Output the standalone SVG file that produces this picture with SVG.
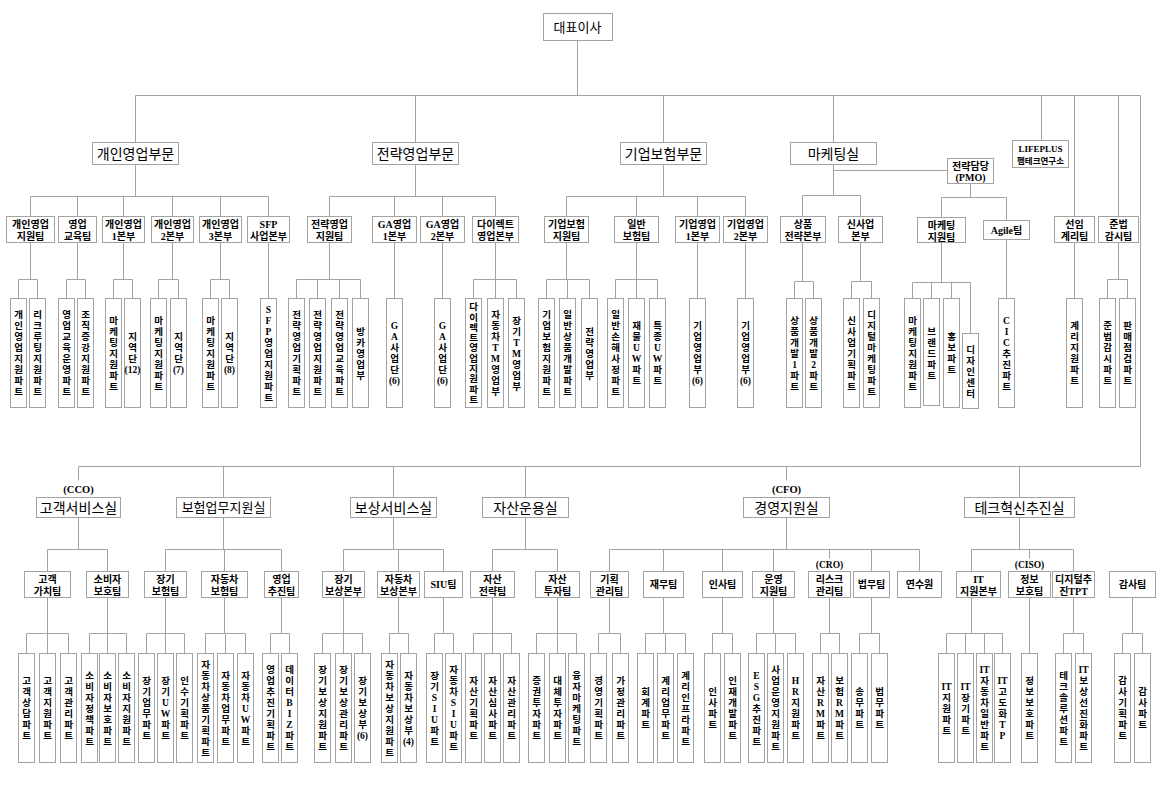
<svg xmlns="http://www.w3.org/2000/svg" width="1172" height="801" viewBox="0 0 1172 801">
<style>
.bx{fill:#fff;stroke:#a3a3a3;stroke-width:1}
.cn{fill:none;stroke:#a3a3a3;stroke-width:1}
text{font-family:"Liberation Serif","Noto Sans CJK KR",serif;fill:#000;text-anchor:middle}
.dv{font-size:14px}
.dv7{font-size:13px}
.tm{font-size:10px;font-weight:bold}
.lf{font-size:9.5px;font-weight:bold}
.lb{font-size:10.5px;font-weight:bold}
</style>
<rect x="0" y="0" width="1172" height="801" fill="#fff"/>
<g transform="translate(0.5,0.5)">
<g id="connectors">
<path class="cn" d="M577 40V95 M135 95H1140 M135 95V142 M415 95V142 M663 95V142 M833 95V142 M1041 95V140 M1074 95V216 M1118 95V216 M1140 95V466
M135 164V196 M30 196H268 M30 196V216 M77 196V216 M123 196V216 M172 196V216 M220 196V216 M268 196V216
M30 242V279 M18 279H37 M18 279V298 M37 279V298
M77 242V279 M66 279H85 M66 279V298 M85 279V298
M123 242V279 M113 279H132 M113 279V298 M132 279V298
M172 242V279 M158 279H178 M158 279V298 M178 279V298
M220 242V279 M210 279H229 M210 279V298 M229 279V298
M268 242V298
M415 164V196 M329 196H495 M329 196V216 M394 196V216 M442 196V216 M495 196V216
M329 242V279 M296 279H360 M296 279V298 M317 279V298 M339 279V298 M360 279V298
M394 242V298 M442 242V298
M495 242V279 M473 279H516 M473 279V298 M495 279V298 M516 279V298
M663 164V196 M566 196H745 M566 196V216 M636 196V216 M697 196V216 M745 196V216
M566 242V279 M546 279H589 M546 279V298 M567 279V298 M589 279V298
M636 242V279 M615 279H657 M615 279V298 M636 279V298 M657 279V298
M697 242V298 M745 242V298
M833 164V195 M833 170H947 M802 195H860 M802 195V216 M860 195V216
M802 242V281 M794 281H813 M794 281V298 M813 281V298
M860 242V281 M851 281H871 M851 281V298 M871 281V298
M970 183V197 M941 197H1006 M941 197V217 M1006 197V220
M941 242V282 M912 282H970 M912 282V298 M931 282V298 M951 282V298 M970 282V333
M1006 239V298
M1074 242V298
M1118 242V279 M1107 279H1127 M1107 279V298 M1127 279V298
M78 466H1140 M78 466V480 M223 466V497 M393 466V497 M525 466V497 M786 466V480 M1019 466V497
M78 517V549 M47 549H107 M47 549V571 M107 549V571
M47 597V633 M26 633H68 M26 633V653 M47 633V653 M68 633V653
M107 597V633 M89 633H126 M89 633V653 M107 633V653 M126 633V653
M223 517V549 M165 549H281 M165 549V571 M224 549V571 M281 549V571
M165 597V633 M146 633H184 M146 633V653 M165 633V653 M184 633V653
M224 597V633 M205 633H245 M205 633V653 M225 633V653 M245 633V653
M281 597V633 M270 633H289 M270 633V653 M289 633V653
M393 517V549 M343 549H443 M343 549V571 M398 549V571 M443 549V571
M343 597V633 M322 633H362 M322 633V653 M343 633V653 M362 633V653
M398 597V633 M389 633H408 M389 633V653 M408 633V653
M443 597V633 M434 633H453 M434 633V653 M453 633V653
M525 517V549 M492 549H557 M492 549V571 M557 549V571
M492 597V633 M473 633H511 M473 633V653 M492 633V653 M511 633V653
M557 597V633 M536 633H576 M536 633V653 M557 633V653 M576 633V653
M786 517V549 M609 549H919 M609 549V571 M663 549V571 M722 549V571 M773 549V571 M829 549V558 M871 549V571 M919 549V571
M609 597V633 M598 633H620 M598 633V653 M620 633V653
M663 597V633 M645 633H685 M645 633V653 M665 633V653 M685 633V653
M722 597V633 M712 633H732 M712 633V653 M732 633V653
M773 597V633 M756 633H795 M756 633V653 M775 633V653 M795 633V653
M829 597V633 M820 633H839 M820 633V653 M839 633V653
M871 597V633 M859 633H879 M859 633V653 M879 633V653
M1019 517V549 M971 549H1073 M971 549V571 M1029 549V558 M1073 549V571
M971 597V633 M946 633H1002 M946 633V653 M965 633V653 M984 633V653 M1002 633V653
M1029 597V653
M1073 597V633 M1063 633H1083 M1063 633V653 M1083 633V653
M1132 597V633 M1122 633H1142 M1122 633V653 M1142 633V653"/>
</g>

<g id="n-ceo"><rect class="bx" x="543" y="13" width="69" height="27"/><text class="dv7" x="577" y="31">대표이사</text></g>

<g id="d-personal"><rect class="bx" x="92" y="142" width="86" height="22"/><text class="dv" x="135" y="158">개인영업부문</text></g>
<g id="d-strategy"><rect class="bx" x="372" y="142" width="86" height="22"/><text class="dv" x="415" y="158">전략영업부문</text></g>
<g id="d-corporate"><rect class="bx" x="620" y="142" width="86" height="22"/><text class="dv" x="663" y="158">기업보험부문</text></g>
<g id="d-marketing"><rect class="bx" x="790" y="142" width="86" height="22"/><text class="dv" x="833" y="158">마케팅실</text></g>
<g id="d-lifeplus"><rect class="bx" x="1012" y="140" width="56" height="27"/><text x="1040" y="151" style="font-size:9px;font-weight:bold">LIFEPLUS</text><text x="1040" y="163" style="font-size:8.5px;font-weight:bold">펨테크연구소</text></g>
<g id="d-pmo"><rect class="bx" x="947" y="158" width="46" height="25"/><text class="tm" x="970" y="169">전략담당</text><text class="tm" x="970" y="180">(PMO)</text></g>

<g id="t-top">
<g id="t1"><rect class="bx" x="6" y="216" width="48" height="26"/><text class="tm" x="30" y="227">개인영업</text><text class="tm" x="30" y="239">지원팀</text></g>
<g id="t2"><rect class="bx" x="58" y="216" width="38" height="26"/><text class="tm" x="77" y="227">영업</text><text class="tm" x="77" y="239">교육팀</text></g>
<g id="t3"><rect class="bx" x="102" y="216" width="42" height="26"/><text class="tm" x="123" y="227">개인영업</text><text class="tm" x="123" y="239">1본부</text></g>
<g id="t4"><rect class="bx" x="151" y="216" width="42" height="26"/><text class="tm" x="172" y="227">개인영업</text><text class="tm" x="172" y="239">2본부</text></g>
<g id="t5"><rect class="bx" x="199" y="216" width="42" height="26"/><text class="tm" x="220" y="227">개인영업</text><text class="tm" x="220" y="239">3본부</text></g>
<g id="t6"><rect class="bx" x="247" y="216" width="42" height="26"/><text class="tm" x="268" y="227">SFP</text><text class="tm" x="268" y="239">사업본부</text></g>
<g id="t7"><rect class="bx" x="307" y="216" width="44" height="26"/><text class="tm" x="329" y="227">전략영업</text><text class="tm" x="329" y="239">지원팀</text></g>
<g id="t8"><rect class="bx" x="372" y="216" width="44" height="26"/><text class="tm" x="394" y="227">GA영업</text><text class="tm" x="394" y="239">1본부</text></g>
<g id="t9"><rect class="bx" x="420" y="216" width="44" height="26"/><text class="tm" x="442" y="227">GA영업</text><text class="tm" x="442" y="239">2본부</text></g>
<g id="t10"><rect class="bx" x="472" y="216" width="46" height="26"/><text class="tm" x="495" y="227">다이렉트</text><text class="tm" x="495" y="239">영업본부</text></g>
<g id="t11"><rect class="bx" x="544" y="216" width="44" height="26"/><text class="tm" x="566" y="227">기업보험</text><text class="tm" x="566" y="239">지원팀</text></g>
<g id="t12"><rect class="bx" x="614" y="216" width="44" height="26"/><text class="tm" x="636" y="227">일반</text><text class="tm" x="636" y="239">보험팀</text></g>
<g id="t13"><rect class="bx" x="675" y="216" width="44" height="26"/><text class="tm" x="697" y="227">기업영업</text><text class="tm" x="697" y="239">1본부</text></g>
<g id="t14"><rect class="bx" x="723" y="216" width="44" height="26"/><text class="tm" x="745" y="227">기업영업</text><text class="tm" x="745" y="239">2본부</text></g>
<g id="t15"><rect class="bx" x="780" y="216" width="45" height="26"/><text class="tm" x="802.5" y="227">상품</text><text class="tm" x="802.5" y="239">전략본부</text></g>
<g id="t16"><rect class="bx" x="838" y="216" width="44" height="26"/><text class="tm" x="860" y="227">신사업</text><text class="tm" x="860" y="239">본부</text></g>
<g id="t17"><rect class="bx" x="917" y="217" width="48" height="25"/><text class="tm" x="941" y="228">마케팅</text><text class="tm" x="941" y="240">지원팀</text></g>
<g id="t18"><rect class="bx" x="983" y="220" width="46" height="19"/><text class="tm" x="1006" y="233.5">Agile팀</text></g>
<g id="t19"><rect class="bx" x="1054" y="216" width="40" height="26"/><text class="tm" x="1074" y="227">선임</text><text class="tm" x="1074" y="239">계리팀</text></g>
<g id="t20"><rect class="bx" x="1098" y="216" width="40" height="26"/><text class="tm" x="1118" y="227">준법</text><text class="tm" x="1118" y="239">감시팀</text></g>
</g>

<g id="leaves-top">
<g id="L1"><rect class="bx" x="10" y="298" width="16" height="109"/><text class="lf"><tspan x="18" y="317.5">개</tspan><tspan x="18" y="328.5">인</tspan><tspan x="18" y="339.5">영</tspan><tspan x="18" y="350.5">업</tspan><tspan x="18" y="361.5">지</tspan><tspan x="18" y="372.5">원</tspan><tspan x="18" y="383.5">파</tspan><tspan x="18" y="394.5">트</tspan></text></g>
<g id="L2"><rect class="bx" x="29" y="298" width="16" height="109"/><text class="lf"><tspan x="37" y="317.5">리</tspan><tspan x="37" y="328.5">크</tspan><tspan x="37" y="339.5">루</tspan><tspan x="37" y="350.5">팅</tspan><tspan x="37" y="361.5">지</tspan><tspan x="37" y="372.5">원</tspan><tspan x="37" y="383.5">파</tspan><tspan x="37" y="394.5">트</tspan></text></g>
<g id="L3"><rect class="bx" x="58" y="298" width="16" height="109"/><text class="lf"><tspan x="66" y="317.5">영</tspan><tspan x="66" y="328.5">업</tspan><tspan x="66" y="339.5">교</tspan><tspan x="66" y="350.5">육</tspan><tspan x="66" y="361.5">운</tspan><tspan x="66" y="372.5">영</tspan><tspan x="66" y="383.5">파</tspan><tspan x="66" y="394.5">트</tspan></text></g>
<g id="L4"><rect class="bx" x="77" y="298" width="16" height="109"/><text class="lf"><tspan x="85" y="317.5">조</tspan><tspan x="85" y="328.5">직</tspan><tspan x="85" y="339.5">증</tspan><tspan x="85" y="350.5">강</tspan><tspan x="85" y="361.5">지</tspan><tspan x="85" y="372.5">원</tspan><tspan x="85" y="383.5">파</tspan><tspan x="85" y="394.5">트</tspan></text></g>
<g id="L5"><rect class="bx" x="105" y="298" width="16" height="109"/><text class="lf"><tspan x="113" y="323">마</tspan><tspan x="113" y="334">케</tspan><tspan x="113" y="345">팅</tspan><tspan x="113" y="356">지</tspan><tspan x="113" y="367">원</tspan><tspan x="113" y="378">파</tspan><tspan x="113" y="389">트</tspan></text></g>
<g id="L6"><rect class="bx" x="124" y="298" width="16" height="109"/><text class="lf"><tspan x="132" y="339.5">지</tspan><tspan x="132" y="350.5">역</tspan><tspan x="132" y="361.5">단</tspan><tspan x="132" y="372.5">(12)</tspan></text></g>
<g id="L7"><rect class="bx" x="150" y="298" width="16" height="109"/><text class="lf"><tspan x="158" y="323">마</tspan><tspan x="158" y="334">케</tspan><tspan x="158" y="345">팅</tspan><tspan x="158" y="356">지</tspan><tspan x="158" y="367">원</tspan><tspan x="158" y="378">파</tspan><tspan x="158" y="389">트</tspan></text></g>
<g id="L8"><rect class="bx" x="170" y="298" width="16" height="109"/><text class="lf"><tspan x="178" y="339.5">지</tspan><tspan x="178" y="350.5">역</tspan><tspan x="178" y="361.5">단</tspan><tspan x="178" y="372.5">(7)</tspan></text></g>
<g id="L9"><rect class="bx" x="202" y="298" width="16" height="109"/><text class="lf"><tspan x="210" y="323">마</tspan><tspan x="210" y="334">케</tspan><tspan x="210" y="345">팅</tspan><tspan x="210" y="356">지</tspan><tspan x="210" y="367">원</tspan><tspan x="210" y="378">파</tspan><tspan x="210" y="389">트</tspan></text></g>
<g id="L10"><rect class="bx" x="221" y="298" width="16" height="109"/><text class="lf"><tspan x="229" y="339.5">지</tspan><tspan x="229" y="350.5">역</tspan><tspan x="229" y="361.5">단</tspan><tspan x="229" y="372.5">(8)</tspan></text></g>
<g id="L11"><rect class="bx" x="260" y="298" width="16" height="109"/><text class="lf"><tspan x="268" y="312">S</tspan><tspan x="268" y="323">F</tspan><tspan x="268" y="334">P</tspan><tspan x="268" y="345">영</tspan><tspan x="268" y="356">업</tspan><tspan x="268" y="367">지</tspan><tspan x="268" y="378">원</tspan><tspan x="268" y="389">파</tspan><tspan x="268" y="400">트</tspan></text></g>
<g id="L12"><rect class="bx" x="288" y="298" width="16" height="109"/><text class="lf"><tspan x="296" y="317.5">전</tspan><tspan x="296" y="328.5">략</tspan><tspan x="296" y="339.5">영</tspan><tspan x="296" y="350.5">업</tspan><tspan x="296" y="361.5">기</tspan><tspan x="296" y="372.5">획</tspan><tspan x="296" y="383.5">파</tspan><tspan x="296" y="394.5">트</tspan></text></g>
<g id="L13"><rect class="bx" x="309" y="298" width="16" height="109"/><text class="lf"><tspan x="317" y="317.5">전</tspan><tspan x="317" y="328.5">략</tspan><tspan x="317" y="339.5">영</tspan><tspan x="317" y="350.5">업</tspan><tspan x="317" y="361.5">지</tspan><tspan x="317" y="372.5">원</tspan><tspan x="317" y="383.5">파</tspan><tspan x="317" y="394.5">트</tspan></text></g>
<g id="L14"><rect class="bx" x="331" y="298" width="16" height="109"/><text class="lf"><tspan x="339" y="317.5">전</tspan><tspan x="339" y="328.5">략</tspan><tspan x="339" y="339.5">영</tspan><tspan x="339" y="350.5">업</tspan><tspan x="339" y="361.5">교</tspan><tspan x="339" y="372.5">육</tspan><tspan x="339" y="383.5">파</tspan><tspan x="339" y="394.5">트</tspan></text></g>
<g id="L15"><rect class="bx" x="352" y="298" width="16" height="109"/><text class="lf"><tspan x="360" y="334">방</tspan><tspan x="360" y="345">카</tspan><tspan x="360" y="356">영</tspan><tspan x="360" y="367">업</tspan><tspan x="360" y="378">부</tspan></text></g>
<g id="L16"><rect class="bx" x="386" y="298" width="16" height="109"/><text class="lf"><tspan x="394" y="328.5">G</tspan><tspan x="394" y="339.5">A</tspan><tspan x="394" y="350.5">사</tspan><tspan x="394" y="361.5">업</tspan><tspan x="394" y="372.5">단</tspan><tspan x="394" y="383.5">(6)</tspan></text></g>
<g id="L17"><rect class="bx" x="434" y="298" width="16" height="109"/><text class="lf"><tspan x="442" y="328.5">G</tspan><tspan x="442" y="339.5">A</tspan><tspan x="442" y="350.5">사</tspan><tspan x="442" y="361.5">업</tspan><tspan x="442" y="372.5">단</tspan><tspan x="442" y="383.5">(6)</tspan></text></g>
<g id="L18"><rect class="bx" x="465" y="298" width="16" height="109"/><text class="lf"><tspan x="473" y="309.6">다</tspan><tspan x="473" y="320">이</tspan><tspan x="473" y="330.2">렉</tspan><tspan x="473" y="340.5">트</tspan><tspan x="473" y="350.8">영</tspan><tspan x="473" y="361.2">업</tspan><tspan x="473" y="371.5">지</tspan><tspan x="473" y="381.8">원</tspan><tspan x="473" y="392.1">파</tspan><tspan x="473" y="402.4">트</tspan></text></g>
<g id="L19"><rect class="bx" x="487" y="298" width="16" height="109"/><text class="lf"><tspan x="495" y="317.5">자</tspan><tspan x="495" y="328.5">동</tspan><tspan x="495" y="339.5">차</tspan><tspan x="495" y="350.5">T</tspan><tspan x="495" y="361.5">M</tspan><tspan x="495" y="372.5">영</tspan><tspan x="495" y="383.5">업</tspan><tspan x="495" y="394.5">부</tspan></text></g>
<g id="L20"><rect class="bx" x="508" y="298" width="16" height="109"/><text class="lf"><tspan x="516" y="323">장</tspan><tspan x="516" y="334">기</tspan><tspan x="516" y="345">T</tspan><tspan x="516" y="356">M</tspan><tspan x="516" y="367">영</tspan><tspan x="516" y="378">업</tspan><tspan x="516" y="389">부</tspan></text></g>
<g id="L21"><rect class="bx" x="538" y="298" width="16" height="109"/><text class="lf"><tspan x="546" y="317.5">기</tspan><tspan x="546" y="328.5">업</tspan><tspan x="546" y="339.5">보</tspan><tspan x="546" y="350.5">험</tspan><tspan x="546" y="361.5">지</tspan><tspan x="546" y="372.5">원</tspan><tspan x="546" y="383.5">파</tspan><tspan x="546" y="394.5">트</tspan></text></g>
<g id="L22"><rect class="bx" x="559" y="298" width="16" height="109"/><text class="lf"><tspan x="567" y="317.5">일</tspan><tspan x="567" y="328.5">반</tspan><tspan x="567" y="339.5">상</tspan><tspan x="567" y="350.5">품</tspan><tspan x="567" y="361.5">개</tspan><tspan x="567" y="372.5">발</tspan><tspan x="567" y="383.5">파</tspan><tspan x="567" y="394.5">트</tspan></text></g>
<g id="L23"><rect class="bx" x="581" y="298" width="16" height="109"/><text class="lf"><tspan x="589" y="334">전</tspan><tspan x="589" y="345">략</tspan><tspan x="589" y="356">영</tspan><tspan x="589" y="367">업</tspan><tspan x="589" y="378">부</tspan></text></g>
<g id="L24"><rect class="bx" x="607" y="298" width="16" height="109"/><text class="lf"><tspan x="615" y="317.5">일</tspan><tspan x="615" y="328.5">반</tspan><tspan x="615" y="339.5">손</tspan><tspan x="615" y="350.5">해</tspan><tspan x="615" y="361.5">사</tspan><tspan x="615" y="372.5">정</tspan><tspan x="615" y="383.5">파</tspan><tspan x="615" y="394.5">트</tspan></text></g>
<g id="L25"><rect class="bx" x="628" y="298" width="16" height="109"/><text class="lf"><tspan x="636" y="328.5">재</tspan><tspan x="636" y="339.5">물</tspan><tspan x="636" y="350.5">U</tspan><tspan x="636" y="361.5">W</tspan><tspan x="636" y="372.5">파</tspan><tspan x="636" y="383.5">트</tspan></text></g>
<g id="L26"><rect class="bx" x="649" y="298" width="16" height="109"/><text class="lf"><tspan x="657" y="328.5">특</tspan><tspan x="657" y="339.5">종</tspan><tspan x="657" y="350.5">U</tspan><tspan x="657" y="361.5">W</tspan><tspan x="657" y="372.5">파</tspan><tspan x="657" y="383.5">트</tspan></text></g>
<g id="L27"><rect class="bx" x="689" y="298" width="16" height="109"/><text class="lf"><tspan x="697" y="328.5">기</tspan><tspan x="697" y="339.5">업</tspan><tspan x="697" y="350.5">영</tspan><tspan x="697" y="361.5">업</tspan><tspan x="697" y="372.5">부</tspan><tspan x="697" y="383.5">(6)</tspan></text></g>
<g id="L28"><rect class="bx" x="737" y="298" width="16" height="109"/><text class="lf"><tspan x="745" y="328.5">기</tspan><tspan x="745" y="339.5">업</tspan><tspan x="745" y="350.5">영</tspan><tspan x="745" y="361.5">업</tspan><tspan x="745" y="372.5">부</tspan><tspan x="745" y="383.5">(6)</tspan></text></g>
<g id="L29"><rect class="bx" x="786" y="298" width="16" height="109"/><text class="lf"><tspan x="794" y="323">상</tspan><tspan x="794" y="334">품</tspan><tspan x="794" y="345">개</tspan><tspan x="794" y="356">발</tspan><tspan x="794" y="367">1</tspan><tspan x="794" y="378">파</tspan><tspan x="794" y="389">트</tspan></text></g>
<g id="L30"><rect class="bx" x="805" y="298" width="16" height="109"/><text class="lf"><tspan x="813" y="323">상</tspan><tspan x="813" y="334">품</tspan><tspan x="813" y="345">개</tspan><tspan x="813" y="356">발</tspan><tspan x="813" y="367">2</tspan><tspan x="813" y="378">파</tspan><tspan x="813" y="389">트</tspan></text></g>
<g id="L31"><rect class="bx" x="843" y="298" width="16" height="109"/><text class="lf"><tspan x="851" y="323">신</tspan><tspan x="851" y="334">사</tspan><tspan x="851" y="345">업</tspan><tspan x="851" y="356">기</tspan><tspan x="851" y="367">획</tspan><tspan x="851" y="378">파</tspan><tspan x="851" y="389">트</tspan></text></g>
<g id="L32"><rect class="bx" x="863" y="298" width="16" height="109"/><text class="lf"><tspan x="871" y="317.5">디</tspan><tspan x="871" y="328.5">지</tspan><tspan x="871" y="339.5">털</tspan><tspan x="871" y="350.5">마</tspan><tspan x="871" y="361.5">케</tspan><tspan x="871" y="372.5">팅</tspan><tspan x="871" y="383.5">파</tspan><tspan x="871" y="394.5">트</tspan></text></g>
<g id="L33"><rect class="bx" x="904" y="298" width="16" height="109"/><text class="lf"><tspan x="912" y="323">마</tspan><tspan x="912" y="334">케</tspan><tspan x="912" y="345">팅</tspan><tspan x="912" y="356">지</tspan><tspan x="912" y="367">원</tspan><tspan x="912" y="378">파</tspan><tspan x="912" y="389">트</tspan></text></g>
<g id="L34"><rect class="bx" x="923" y="298" width="16" height="107"/><text class="lf"><tspan x="931" y="334">브</tspan><tspan x="931" y="345">랜</tspan><tspan x="931" y="356">드</tspan><tspan x="931" y="367">파</tspan><tspan x="931" y="378">트</tspan></text></g>
<g id="L35"><rect class="bx" x="943" y="298" width="16" height="109"/><text class="lf"><tspan x="951" y="339.5">홍</tspan><tspan x="951" y="350.5">보</tspan><tspan x="951" y="361.5">파</tspan><tspan x="951" y="372.5">트</tspan></text></g>
<g id="L36"><rect class="bx" x="962" y="333" width="16" height="75"/><text class="lf"><tspan x="970" y="352">디</tspan><tspan x="970" y="363">자</tspan><tspan x="970" y="374">인</tspan><tspan x="970" y="385">센</tspan><tspan x="970" y="396">터</tspan></text></g>
<g id="L37"><rect class="bx" x="998" y="298" width="16" height="109"/><text class="lf"><tspan x="1006" y="323">C</tspan><tspan x="1006" y="334">I</tspan><tspan x="1006" y="345">C</tspan><tspan x="1006" y="356">추</tspan><tspan x="1006" y="367">진</tspan><tspan x="1006" y="378">파</tspan><tspan x="1006" y="389">트</tspan></text></g>
<g id="L38"><rect class="bx" x="1066" y="298" width="16" height="109"/><text class="lf"><tspan x="1074" y="328.5">계</tspan><tspan x="1074" y="339.5">리</tspan><tspan x="1074" y="350.5">지</tspan><tspan x="1074" y="361.5">원</tspan><tspan x="1074" y="372.5">파</tspan><tspan x="1074" y="383.5">트</tspan></text></g>
<g id="L39"><rect class="bx" x="1099" y="298" width="16" height="109"/><text class="lf"><tspan x="1107" y="328.5">준</tspan><tspan x="1107" y="339.5">법</tspan><tspan x="1107" y="350.5">감</tspan><tspan x="1107" y="361.5">시</tspan><tspan x="1107" y="372.5">파</tspan><tspan x="1107" y="383.5">트</tspan></text></g>
<g id="L40"><rect class="bx" x="1119" y="298" width="16" height="109"/><text class="lf"><tspan x="1127" y="328.5">판</tspan><tspan x="1127" y="339.5">매</tspan><tspan x="1127" y="350.5">점</tspan><tspan x="1127" y="361.5">검</tspan><tspan x="1127" y="372.5">파</tspan><tspan x="1127" y="383.5">트</tspan></text></g>
</g>

<g id="d-bottom">
<g id="d-cco"><text class="lb" x="78" y="492">(CCO)</text><rect class="bx" x="36" y="497" width="84" height="20"/><text class="dv" x="78" y="512">고객서비스실</text></g>
<g id="d-ops"><rect class="bx" x="176" y="497" width="94" height="20"/><text class="dv7" x="223" y="511.5">보험업무지원실</text></g>
<g id="d-claims"><rect class="bx" x="350" y="497" width="86" height="20"/><text class="dv" x="393" y="512">보상서비스실</text></g>
<g id="d-asset"><rect class="bx" x="482" y="497" width="86" height="20"/><text class="dv" x="525" y="512">자산운용실</text></g>
<g id="d-cfo"><text class="lb" x="786" y="492">(CFO)</text><rect class="bx" x="743" y="497" width="86" height="20"/><text class="dv" x="786" y="512">경영지원실</text></g>
<g id="d-tech"><rect class="bx" x="964" y="497" width="110" height="20"/><text class="dv" x="1019" y="512">테크혁신추진실</text></g>
</g>

<g id="t-bottom">
<g id="b1"><rect class="bx" x="24" y="571" width="46" height="26"/><text class="tm" x="47" y="582">고객</text><text class="tm" x="47" y="594">가치팀</text></g>
<g id="b2"><rect class="bx" x="86" y="571" width="42" height="26"/><text class="tm" x="107" y="582">소비자</text><text class="tm" x="107" y="594">보호팀</text></g>
<g id="b3"><rect class="bx" x="144" y="571" width="42" height="26"/><text class="tm" x="165" y="582">장기</text><text class="tm" x="165" y="594">보험팀</text></g>
<g id="b4"><rect class="bx" x="201" y="571" width="46" height="26"/><text class="tm" x="224" y="582">자동차</text><text class="tm" x="224" y="594">보험팀</text></g>
<g id="b5"><rect class="bx" x="264" y="571" width="34" height="26"/><text class="tm" x="281" y="582">영업</text><text class="tm" x="281" y="594">추진팀</text></g>
<g id="b6"><rect class="bx" x="322" y="571" width="42" height="26"/><text class="tm" x="343" y="582">장기</text><text class="tm" x="343" y="594">보상본부</text></g>
<g id="b7"><rect class="bx" x="377" y="571" width="42" height="26"/><text class="tm" x="398" y="582">자동차</text><text class="tm" x="398" y="594">보상본부</text></g>
<g id="b8"><rect class="bx" x="424" y="571" width="38" height="26"/><text class="tm" x="443" y="587.5">SIU팀</text></g>
<g id="b9"><rect class="bx" x="470" y="571" width="44" height="26"/><text class="tm" x="492" y="582">자산</text><text class="tm" x="492" y="594">전략팀</text></g>
<g id="b10"><rect class="bx" x="535" y="571" width="44" height="26"/><text class="tm" x="557" y="582">자산</text><text class="tm" x="557" y="594">투자팀</text></g>
<g id="b11"><rect class="bx" x="590" y="571" width="38" height="26"/><text class="tm" x="609" y="582">기획</text><text class="tm" x="609" y="594">관리팀</text></g>
<g id="b12"><rect class="bx" x="643" y="571" width="40" height="26"/><text class="tm" x="663" y="587.5">재무팀</text></g>
<g id="b13"><rect class="bx" x="702" y="571" width="40" height="26"/><text class="tm" x="722" y="587.5">인사팀</text></g>
<g id="b14"><rect class="bx" x="752" y="571" width="42" height="26"/><text class="tm" x="773" y="582">운영</text><text class="tm" x="773" y="594">지원팀</text></g>
<g id="b15"><text class="tm" x="829" y="567" style="font-size:9.5px">(CRO)</text><rect class="bx" x="808" y="571" width="42" height="26"/><text class="tm" x="829" y="582">리스크</text><text class="tm" x="829" y="594">관리팀</text></g>
<g id="b16"><rect class="bx" x="853" y="571" width="36" height="26"/><text class="tm" x="871" y="587.5">법무팀</text></g>
<g id="b17"><rect class="bx" x="897" y="571" width="44" height="26"/><text class="tm" x="919" y="587.5">연수원</text></g>
<g id="b18"><rect class="bx" x="956" y="571" width="44" height="26"/><text class="tm" x="978" y="582">IT</text><text class="tm" x="978" y="594">지원본부</text></g>
<g id="b19"><text class="tm" x="1029" y="567" style="font-size:9.5px">(CISO)</text><rect class="bx" x="1008" y="571" width="42" height="26"/><text class="tm" x="1029" y="582">정보</text><text class="tm" x="1029" y="594">보호팀</text></g>
<g id="b20"><rect class="bx" x="1052" y="571" width="42" height="26"/><text class="tm" x="1073" y="582">디지털추</text><text class="tm" x="1073" y="594">진TPT</text></g>
<g id="b21"><rect class="bx" x="1109" y="571" width="46" height="26"/><text class="tm" x="1132" y="587.5">감사팀</text></g>
</g>

<g id="leaves-bottom">
<g id="B1"><rect class="bx" x="18" y="653" width="16" height="109"/><text class="lf"><tspan x="26" y="683.5">고</tspan><tspan x="26" y="694.5">객</tspan><tspan x="26" y="705.5">상</tspan><tspan x="26" y="716.5">담</tspan><tspan x="26" y="727.5">파</tspan><tspan x="26" y="738.5">트</tspan></text></g>
<g id="B2"><rect class="bx" x="39" y="653" width="16" height="109"/><text class="lf"><tspan x="47" y="683.5">고</tspan><tspan x="47" y="694.5">객</tspan><tspan x="47" y="705.5">지</tspan><tspan x="47" y="716.5">원</tspan><tspan x="47" y="727.5">파</tspan><tspan x="47" y="738.5">트</tspan></text></g>
<g id="B3"><rect class="bx" x="60" y="653" width="16" height="109"/><text class="lf"><tspan x="68" y="683.5">고</tspan><tspan x="68" y="694.5">객</tspan><tspan x="68" y="705.5">관</tspan><tspan x="68" y="716.5">리</tspan><tspan x="68" y="727.5">파</tspan><tspan x="68" y="738.5">트</tspan></text></g>
<g id="B4"><rect class="bx" x="81" y="653" width="16" height="109"/><text class="lf"><tspan x="89" y="678">소</tspan><tspan x="89" y="689">비</tspan><tspan x="89" y="700">자</tspan><tspan x="89" y="711">정</tspan><tspan x="89" y="722">책</tspan><tspan x="89" y="733">파</tspan><tspan x="89" y="744">트</tspan></text></g>
<g id="B5"><rect class="bx" x="99" y="653" width="16" height="109"/><text class="lf"><tspan x="107" y="678">소</tspan><tspan x="107" y="689">비</tspan><tspan x="107" y="700">자</tspan><tspan x="107" y="711">보</tspan><tspan x="107" y="722">호</tspan><tspan x="107" y="733">파</tspan><tspan x="107" y="744">트</tspan></text></g>
<g id="B6"><rect class="bx" x="118" y="653" width="16" height="109"/><text class="lf"><tspan x="126" y="678">소</tspan><tspan x="126" y="689">비</tspan><tspan x="126" y="700">자</tspan><tspan x="126" y="711">지</tspan><tspan x="126" y="722">원</tspan><tspan x="126" y="733">파</tspan><tspan x="126" y="744">트</tspan></text></g>
<g id="B7"><rect class="bx" x="138" y="653" width="16" height="109"/><text class="lf"><tspan x="146" y="683.5">장</tspan><tspan x="146" y="694.5">기</tspan><tspan x="146" y="705.5">업</tspan><tspan x="146" y="716.5">무</tspan><tspan x="146" y="727.5">파</tspan><tspan x="146" y="738.5">트</tspan></text></g>
<g id="B8"><rect class="bx" x="157" y="653" width="16" height="109"/><text class="lf"><tspan x="165" y="683.5">장</tspan><tspan x="165" y="694.5">기</tspan><tspan x="165" y="705.5">U</tspan><tspan x="165" y="716.5">W</tspan><tspan x="165" y="727.5">파</tspan><tspan x="165" y="738.5">트</tspan></text></g>
<g id="B9"><rect class="bx" x="176" y="653" width="16" height="109"/><text class="lf"><tspan x="184" y="683.5">인</tspan><tspan x="184" y="694.5">수</tspan><tspan x="184" y="705.5">기</tspan><tspan x="184" y="716.5">획</tspan><tspan x="184" y="727.5">파</tspan><tspan x="184" y="738.5">트</tspan></text></g>
<g id="B10"><rect class="bx" x="197" y="653" width="16" height="109"/><text class="lf"><tspan x="205" y="667">자</tspan><tspan x="205" y="678">동</tspan><tspan x="205" y="689">차</tspan><tspan x="205" y="700">상</tspan><tspan x="205" y="711">품</tspan><tspan x="205" y="722">기</tspan><tspan x="205" y="733">획</tspan><tspan x="205" y="744">파</tspan><tspan x="205" y="755">트</tspan></text></g>
<g id="B11"><rect class="bx" x="217" y="653" width="16" height="109"/><text class="lf"><tspan x="225" y="678">자</tspan><tspan x="225" y="689">동</tspan><tspan x="225" y="700">차</tspan><tspan x="225" y="711">업</tspan><tspan x="225" y="722">무</tspan><tspan x="225" y="733">파</tspan><tspan x="225" y="744">트</tspan></text></g>
<g id="B12"><rect class="bx" x="237" y="653" width="16" height="109"/><text class="lf"><tspan x="245" y="678">자</tspan><tspan x="245" y="689">동</tspan><tspan x="245" y="700">차</tspan><tspan x="245" y="711">U</tspan><tspan x="245" y="722">W</tspan><tspan x="245" y="733">파</tspan><tspan x="245" y="744">트</tspan></text></g>
<g id="B13"><rect class="bx" x="262" y="653" width="16" height="109"/><text class="lf"><tspan x="270" y="672.5">영</tspan><tspan x="270" y="683.5">업</tspan><tspan x="270" y="694.5">추</tspan><tspan x="270" y="705.5">진</tspan><tspan x="270" y="716.5">기</tspan><tspan x="270" y="727.5">획</tspan><tspan x="270" y="738.5">파</tspan><tspan x="270" y="749.5">트</tspan></text></g>
<g id="B14"><rect class="bx" x="281" y="653" width="16" height="109"/><text class="lf"><tspan x="289" y="672.5">데</tspan><tspan x="289" y="683.5">이</tspan><tspan x="289" y="694.5">터</tspan><tspan x="289" y="705.5">B</tspan><tspan x="289" y="716.5">I</tspan><tspan x="289" y="727.5">Z</tspan><tspan x="289" y="738.5">파</tspan><tspan x="289" y="749.5">트</tspan></text></g>
<g id="B15"><rect class="bx" x="314" y="653" width="16" height="109"/><text class="lf"><tspan x="322" y="672.5">장</tspan><tspan x="322" y="683.5">기</tspan><tspan x="322" y="694.5">보</tspan><tspan x="322" y="705.5">상</tspan><tspan x="322" y="716.5">지</tspan><tspan x="322" y="727.5">원</tspan><tspan x="322" y="738.5">파</tspan><tspan x="322" y="749.5">트</tspan></text></g>
<g id="B16"><rect class="bx" x="335" y="653" width="16" height="109"/><text class="lf"><tspan x="343" y="672.5">장</tspan><tspan x="343" y="683.5">기</tspan><tspan x="343" y="694.5">보</tspan><tspan x="343" y="705.5">상</tspan><tspan x="343" y="716.5">관</tspan><tspan x="343" y="727.5">리</tspan><tspan x="343" y="738.5">파</tspan><tspan x="343" y="749.5">트</tspan></text></g>
<g id="B17"><rect class="bx" x="354" y="653" width="16" height="109"/><text class="lf"><tspan x="362" y="683.5">장</tspan><tspan x="362" y="694.5">기</tspan><tspan x="362" y="705.5">보</tspan><tspan x="362" y="716.5">상</tspan><tspan x="362" y="727.5">부</tspan><tspan x="362" y="738.5">(6)</tspan></text></g>
<g id="B18"><rect class="bx" x="381" y="653" width="16" height="109"/><text class="lf"><tspan x="389" y="667">자</tspan><tspan x="389" y="678">동</tspan><tspan x="389" y="689">차</tspan><tspan x="389" y="700">보</tspan><tspan x="389" y="711">상</tspan><tspan x="389" y="722">지</tspan><tspan x="389" y="733">원</tspan><tspan x="389" y="744">파</tspan><tspan x="389" y="755">트</tspan></text></g>
<g id="B19"><rect class="bx" x="400" y="653" width="16" height="109"/><text class="lf"><tspan x="408" y="678">자</tspan><tspan x="408" y="689">동</tspan><tspan x="408" y="700">차</tspan><tspan x="408" y="711">보</tspan><tspan x="408" y="722">상</tspan><tspan x="408" y="733">부</tspan><tspan x="408" y="744">(4)</tspan></text></g>
<g id="B20"><rect class="bx" x="426" y="653" width="16" height="109"/><text class="lf"><tspan x="434" y="678">장</tspan><tspan x="434" y="689">기</tspan><tspan x="434" y="700">S</tspan><tspan x="434" y="711">I</tspan><tspan x="434" y="722">U</tspan><tspan x="434" y="733">파</tspan><tspan x="434" y="744">트</tspan></text></g>
<g id="B21"><rect class="bx" x="445" y="653" width="16" height="109"/><text class="lf"><tspan x="453" y="672.5">자</tspan><tspan x="453" y="683.5">동</tspan><tspan x="453" y="694.5">차</tspan><tspan x="453" y="705.5">S</tspan><tspan x="453" y="716.5">I</tspan><tspan x="453" y="727.5">U</tspan><tspan x="453" y="738.5">파</tspan><tspan x="453" y="749.5">트</tspan></text></g>
<g id="B22"><rect class="bx" x="465" y="653" width="16" height="109"/><text class="lf"><tspan x="473" y="683.5">자</tspan><tspan x="473" y="694.5">산</tspan><tspan x="473" y="705.5">기</tspan><tspan x="473" y="716.5">획</tspan><tspan x="473" y="727.5">파</tspan><tspan x="473" y="738.5">트</tspan></text></g>
<g id="B23"><rect class="bx" x="484" y="653" width="16" height="109"/><text class="lf"><tspan x="492" y="683.5">자</tspan><tspan x="492" y="694.5">산</tspan><tspan x="492" y="705.5">심</tspan><tspan x="492" y="716.5">사</tspan><tspan x="492" y="727.5">파</tspan><tspan x="492" y="738.5">트</tspan></text></g>
<g id="B24"><rect class="bx" x="503" y="653" width="16" height="109"/><text class="lf"><tspan x="511" y="683.5">자</tspan><tspan x="511" y="694.5">산</tspan><tspan x="511" y="705.5">관</tspan><tspan x="511" y="716.5">리</tspan><tspan x="511" y="727.5">파</tspan><tspan x="511" y="738.5">트</tspan></text></g>
<g id="B25"><rect class="bx" x="528" y="653" width="16" height="109"/><text class="lf"><tspan x="536" y="683.5">증</tspan><tspan x="536" y="694.5">권</tspan><tspan x="536" y="705.5">투</tspan><tspan x="536" y="716.5">자</tspan><tspan x="536" y="727.5">파</tspan><tspan x="536" y="738.5">트</tspan></text></g>
<g id="B26"><rect class="bx" x="549" y="653" width="16" height="109"/><text class="lf"><tspan x="557" y="683.5">대</tspan><tspan x="557" y="694.5">체</tspan><tspan x="557" y="705.5">투</tspan><tspan x="557" y="716.5">자</tspan><tspan x="557" y="727.5">파</tspan><tspan x="557" y="738.5">트</tspan></text></g>
<g id="B27"><rect class="bx" x="568" y="653" width="16" height="109"/><text class="lf"><tspan x="576" y="678">융</tspan><tspan x="576" y="689">자</tspan><tspan x="576" y="700">마</tspan><tspan x="576" y="711">케</tspan><tspan x="576" y="722">팅</tspan><tspan x="576" y="733">파</tspan><tspan x="576" y="744">트</tspan></text></g>
<g id="B28"><rect class="bx" x="590" y="653" width="16" height="109"/><text class="lf"><tspan x="598" y="683.5">경</tspan><tspan x="598" y="694.5">영</tspan><tspan x="598" y="705.5">기</tspan><tspan x="598" y="716.5">획</tspan><tspan x="598" y="727.5">파</tspan><tspan x="598" y="738.5">트</tspan></text></g>
<g id="B29"><rect class="bx" x="612" y="653" width="16" height="109"/><text class="lf"><tspan x="620" y="683.5">가</tspan><tspan x="620" y="694.5">정</tspan><tspan x="620" y="705.5">관</tspan><tspan x="620" y="716.5">리</tspan><tspan x="620" y="727.5">파</tspan><tspan x="620" y="738.5">트</tspan></text></g>
<g id="B30"><rect class="bx" x="637" y="653" width="16" height="109"/><text class="lf"><tspan x="645" y="694.5">회</tspan><tspan x="645" y="705.5">계</tspan><tspan x="645" y="716.5">파</tspan><tspan x="645" y="727.5">트</tspan></text></g>
<g id="B31"><rect class="bx" x="657" y="653" width="16" height="109"/><text class="lf"><tspan x="665" y="683.5">계</tspan><tspan x="665" y="694.5">리</tspan><tspan x="665" y="705.5">업</tspan><tspan x="665" y="716.5">무</tspan><tspan x="665" y="727.5">파</tspan><tspan x="665" y="738.5">트</tspan></text></g>
<g id="B32"><rect class="bx" x="677" y="653" width="16" height="109"/><text class="lf"><tspan x="685" y="678">계</tspan><tspan x="685" y="689">리</tspan><tspan x="685" y="700">인</tspan><tspan x="685" y="711">프</tspan><tspan x="685" y="722">라</tspan><tspan x="685" y="733">파</tspan><tspan x="685" y="744">트</tspan></text></g>
<g id="B33"><rect class="bx" x="704" y="653" width="16" height="109"/><text class="lf"><tspan x="712" y="694.5">인</tspan><tspan x="712" y="705.5">사</tspan><tspan x="712" y="716.5">파</tspan><tspan x="712" y="727.5">트</tspan></text></g>
<g id="B34"><rect class="bx" x="724" y="653" width="16" height="109"/><text class="lf"><tspan x="732" y="683.5">인</tspan><tspan x="732" y="694.5">재</tspan><tspan x="732" y="705.5">개</tspan><tspan x="732" y="716.5">발</tspan><tspan x="732" y="727.5">파</tspan><tspan x="732" y="738.5">트</tspan></text></g>
<g id="B35"><rect class="bx" x="748" y="653" width="16" height="109"/><text class="lf"><tspan x="756" y="678">E</tspan><tspan x="756" y="689">S</tspan><tspan x="756" y="700">G</tspan><tspan x="756" y="711">추</tspan><tspan x="756" y="722">진</tspan><tspan x="756" y="733">파</tspan><tspan x="756" y="744">트</tspan></text></g>
<g id="B36"><rect class="bx" x="767" y="653" width="16" height="109"/><text class="lf"><tspan x="775" y="672.5">사</tspan><tspan x="775" y="683.5">업</tspan><tspan x="775" y="694.5">운</tspan><tspan x="775" y="705.5">영</tspan><tspan x="775" y="716.5">지</tspan><tspan x="775" y="727.5">원</tspan><tspan x="775" y="738.5">파</tspan><tspan x="775" y="749.5">트</tspan></text></g>
<g id="B37"><rect class="bx" x="787" y="653" width="16" height="109"/><text class="lf"><tspan x="795" y="683.5">H</tspan><tspan x="795" y="694.5">R</tspan><tspan x="795" y="705.5">지</tspan><tspan x="795" y="716.5">원</tspan><tspan x="795" y="727.5">파</tspan><tspan x="795" y="738.5">트</tspan></text></g>
<g id="B38"><rect class="bx" x="812" y="653" width="16" height="109"/><text class="lf"><tspan x="820" y="683.5">자</tspan><tspan x="820" y="694.5">산</tspan><tspan x="820" y="705.5">R</tspan><tspan x="820" y="716.5">M</tspan><tspan x="820" y="727.5">파</tspan><tspan x="820" y="738.5">트</tspan></text></g>
<g id="B39"><rect class="bx" x="831" y="653" width="16" height="109"/><text class="lf"><tspan x="839" y="683.5">보</tspan><tspan x="839" y="694.5">험</tspan><tspan x="839" y="705.5">R</tspan><tspan x="839" y="716.5">M</tspan><tspan x="839" y="727.5">파</tspan><tspan x="839" y="738.5">트</tspan></text></g>
<g id="B40"><rect class="bx" x="851" y="653" width="16" height="109"/><text class="lf"><tspan x="859" y="694.5">송</tspan><tspan x="859" y="705.5">무</tspan><tspan x="859" y="716.5">파</tspan><tspan x="859" y="727.5">트</tspan></text></g>
<g id="B41"><rect class="bx" x="871" y="653" width="16" height="109"/><text class="lf"><tspan x="879" y="694.5">법</tspan><tspan x="879" y="705.5">무</tspan><tspan x="879" y="716.5">파</tspan><tspan x="879" y="727.5">트</tspan></text></g>
<g id="B42"><rect class="bx" x="938" y="653" width="16" height="109"/><text class="lf"><tspan x="946" y="689">IT</tspan><tspan x="946" y="700">지</tspan><tspan x="946" y="711">원</tspan><tspan x="946" y="722">파</tspan><tspan x="946" y="733">트</tspan></text></g>
<g id="B43"><rect class="bx" x="957" y="653" width="16" height="109"/><text class="lf"><tspan x="965" y="689">IT</tspan><tspan x="965" y="700">장</tspan><tspan x="965" y="711">기</tspan><tspan x="965" y="722">파</tspan><tspan x="965" y="733">트</tspan></text></g>
<g id="B44"><rect class="bx" x="976" y="653" width="16" height="109"/><text class="lf"><tspan x="984" y="672.5">IT</tspan><tspan x="984" y="683.5">자</tspan><tspan x="984" y="694.5">동</tspan><tspan x="984" y="705.5">차</tspan><tspan x="984" y="716.5">일</tspan><tspan x="984" y="727.5">반</tspan><tspan x="984" y="738.5">파</tspan><tspan x="984" y="749.5">트</tspan></text></g>
<g id="B45"><rect class="bx" x="994" y="653" width="16" height="109"/><text class="lf"><tspan x="1002" y="683.5">IT</tspan><tspan x="1002" y="694.5">고</tspan><tspan x="1002" y="705.5">도</tspan><tspan x="1002" y="716.5">화</tspan><tspan x="1002" y="727.5">T</tspan><tspan x="1002" y="738.5">P</tspan></text></g>
<g id="B46"><rect class="bx" x="1021" y="653" width="16" height="109"/><text class="lf"><tspan x="1029" y="683.5">정</tspan><tspan x="1029" y="694.5">보</tspan><tspan x="1029" y="705.5">보</tspan><tspan x="1029" y="716.5">호</tspan><tspan x="1029" y="727.5">파</tspan><tspan x="1029" y="738.5">트</tspan></text></g>
<g id="B47"><rect class="bx" x="1055" y="653" width="16" height="109"/><text class="lf"><tspan x="1063" y="678">테</tspan><tspan x="1063" y="689">크</tspan><tspan x="1063" y="700">솔</tspan><tspan x="1063" y="711">루</tspan><tspan x="1063" y="722">션</tspan><tspan x="1063" y="733">파</tspan><tspan x="1063" y="744">트</tspan></text></g>
<g id="B48"><rect class="bx" x="1075" y="653" width="16" height="109"/><text class="lf"><tspan x="1083" y="672.5">IT</tspan><tspan x="1083" y="683.5">보</tspan><tspan x="1083" y="694.5">상</tspan><tspan x="1083" y="705.5">선</tspan><tspan x="1083" y="716.5">진</tspan><tspan x="1083" y="727.5">화</tspan><tspan x="1083" y="738.5">파</tspan><tspan x="1083" y="749.5">트</tspan></text></g>
<g id="B49"><rect class="bx" x="1114" y="653" width="16" height="109"/><text class="lf"><tspan x="1122" y="683.5">감</tspan><tspan x="1122" y="694.5">사</tspan><tspan x="1122" y="705.5">기</tspan><tspan x="1122" y="716.5">획</tspan><tspan x="1122" y="727.5">파</tspan><tspan x="1122" y="738.5">트</tspan></text></g>
<g id="B50"><rect class="bx" x="1134" y="653" width="16" height="109"/><text class="lf"><tspan x="1142" y="694.5">감</tspan><tspan x="1142" y="705.5">사</tspan><tspan x="1142" y="716.5">파</tspan><tspan x="1142" y="727.5">트</tspan></text></g>
</g>
</g>
</svg>
